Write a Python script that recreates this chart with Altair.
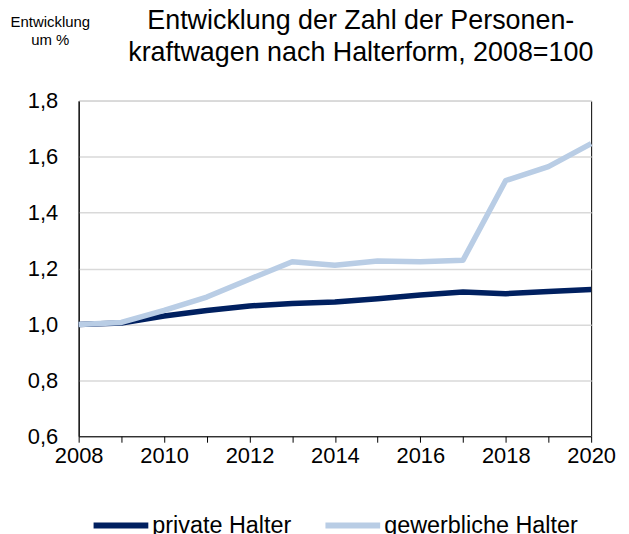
import altair as alt
import pandas as pd

years = list(range(2008, 2021))
private = [1.000, 1.005, 1.030, 1.050, 1.066, 1.075, 1.080, 1.092, 1.105, 1.116, 1.110, 1.118, 1.125]
gewerblich = [1.000, 1.007, 1.050, 1.098, 1.162, 1.224, 1.212, 1.227, 1.224, 1.230, 1.515, 1.565, 1.647]
series = ["private Halter", "gewerbliche Halter"]
colors = ["#002060", "#b9cde5"]
y_ticks = [0.6, 0.8, 1.0, 1.2, 1.4, 1.6, 1.8]
title_lines = ["Entwicklung der Zahl der Personen-", "kraftwagen nach Halterform, 2008=100"]

rows = []
for i, y in enumerate(years):
    rows.append({"Jahr": y, "Wert": private[i], "Halter": series[0], "o": 0})
    rows.append({"Jahr": y, "Wert": gewerblich[i], "Halter": series[1], "o": 1})
df = pd.DataFrame(rows)

chart = alt.Chart(df).mark_line(strokeWidth=5.5, strokeCap="butt", strokeJoin="round").encode(
    x=alt.X("Jahr:Q", scale=alt.Scale(domain=[2008, 2020], nice=False, zero=False),
            axis=alt.Axis(values=years, labelExpr="datum.value % 2 == 0 ? datum.label : ''",
                          format="d", grid=False, title=None, tickSize=6, tickColor="black",
                          domainColor="black", labelFontSize=22, labelColor="black",
                          labelPadding=3, labelFlush=False)),
    y=alt.Y("Wert:Q", scale=alt.Scale(domain=[0.6, 1.8], nice=False, zero=False),
            axis=alt.Axis(values=y_ticks, labelExpr="replace(format(datum.value, '.1f'), '.', ',')",
                          grid=True, gridColor="#d9d9d9", gridWidth=1.5, ticks=False,
                          domainColor="black", labelFontSize=22, labelColor="black",
                          labelPadding=21,
                          title=["Entwicklung", "um %"], titleAngle=0, titleFontSize=15,
                          titleFontWeight="normal", titleColor="black", titleX=-29, titleY=-87,
                          titleAlign="center", titleBaseline="top", titleLineHeight=18)),
    color=alt.Color("Halter:N", scale=alt.Scale(domain=series, range=colors),
                    legend=alt.Legend(title=None, orient="none", direction="horizontal",
                                      legendX=12, legendY=396, symbolType="stroke",
                                      symbolStrokeWidth=6, symbolSize=3025,
                                      labelFontSize=23.5, labelColor="black", labelLimit=400,
                                      columnPadding=22, labelOffset=1)),
    order=alt.Order("o:Q"),
).properties(
    width=515,
    height=337,
    title=alt.TitleParams(text=title_lines, fontSize=27, fontWeight="normal", color="black",
                          anchor="middle", orient="top", frame="group", dx=26, offset=-74,
                          baseline="alphabetic", lineHeight=32),
    padding={"left": 71, "top": 92, "right": 30, "bottom": 110},
    autosize=alt.AutoSizeParams(type="none"),
).configure(font="Liberation Sans").configure_view(stroke="black", strokeWidth=1)

chart.save("out.html", embed_options={"renderer": "svg", "actions": False})
